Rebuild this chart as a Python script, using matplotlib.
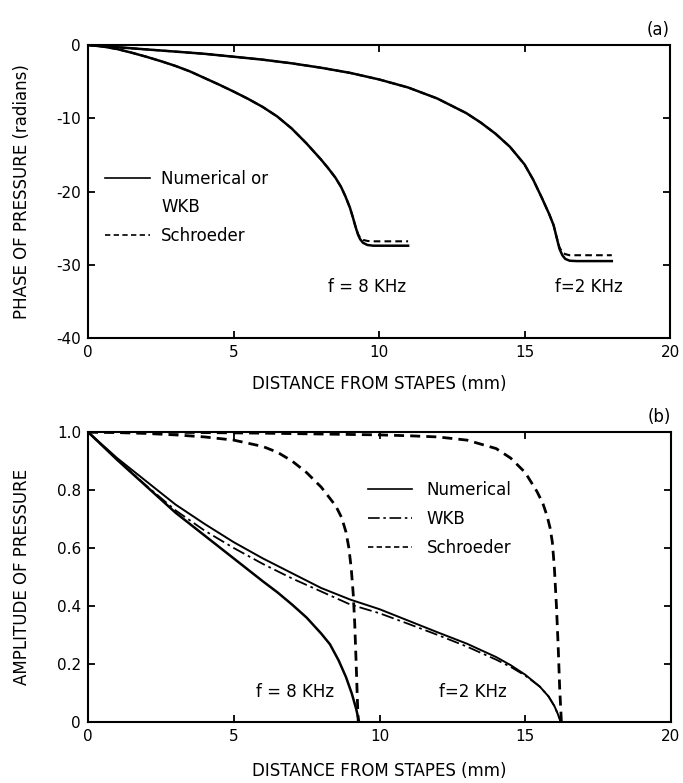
import matplotlib
matplotlib.use("Agg")
import matplotlib.pyplot as plt
from matplotlib.lines import Line2D

# ---------------- data ----------------
# (a) phase of pressure (radians)
x_ph_8k = [0, 0.5, 1, 1.5, 2, 2.5, 3, 3.5, 4, 4.5, 5, 5.5, 6, 6.5, 7, 7.5, 8, 8.25, 8.5, 8.7, 8.85, 9.0, 9.1, 9.2, 9.28, 9.35, 9.45, 9.6, 9.8, 10, 11]
ph_num_8k = [0, -0.2, -0.55, -1.05, -1.6, -2.2, -2.85, -3.6, -4.5, -5.4, -6.35, -7.35, -8.45, -9.75, -11.4, -13.4, -15.6, -16.8, -18.1, -19.4, -20.7, -22.2, -23.5, -24.9, -25.9, -26.5, -27.0, -27.3, -27.4, -27.4, -27.4]
ph_sch_8k = [0, -0.2, -0.55, -1.05, -1.6, -2.2, -2.85, -3.6, -4.5, -5.4, -6.35, -7.35, -8.45, -9.75, -11.4, -13.4, -15.6, -16.8, -18.1, -19.4, -20.7, -22.2, -23.5, -24.9, -25.8, -26.3, -26.6, -26.75, -26.8, -26.8, -26.8]

x_ph_2k = [0, 1, 2, 3, 4, 5, 6, 7, 8, 9, 10, 11, 12, 13, 13.5, 14, 14.5, 15, 15.3, 15.6, 15.85, 16.0, 16.1, 16.2, 16.3, 16.4, 16.55, 16.8, 17, 18]
ph_num_2k = [0, -0.3, -0.6, -0.9, -1.2, -1.6, -2.0, -2.5, -3.1, -3.8, -4.7, -5.8, -7.3, -9.3, -10.6, -12.1, -13.9, -16.3, -18.4, -20.9, -23.1, -24.6, -26.2, -27.8, -28.7, -29.2, -29.45, -29.5, -29.5, -29.5]
ph_sch_2k = [0, -0.3, -0.6, -0.9, -1.2, -1.6, -2.0, -2.5, -3.1, -3.8, -4.7, -5.8, -7.3, -9.3, -10.6, -12.1, -13.9, -16.3, -18.4, -20.9, -23.1, -24.6, -26.2, -27.6, -28.3, -28.55, -28.7, -28.7, -28.7, -28.7]

# (b) amplitude of pressure
x_am_8k = [0, 1, 2, 3, 4, 5, 6, 6.5, 7, 7.5, 8, 8.3, 8.6, 8.85, 9.05, 9.2, 9.3]
am_num_8k = [1.0, 0.904, 0.813, 0.722, 0.643, 0.564, 0.485, 0.447, 0.405, 0.36, 0.305, 0.268, 0.212, 0.155, 0.098, 0.045, 0.0]

x_am_2k = [0, 1, 2, 3, 4, 5, 6, 7, 8, 9, 10, 11, 12, 13, 14, 14.5, 15, 15.5, 15.8, 16.0, 16.12, 16.22]
am_num_2k = [1.0, 0.91, 0.83, 0.75, 0.683, 0.62, 0.564, 0.513, 0.462, 0.422, 0.389, 0.349, 0.309, 0.27, 0.224, 0.196, 0.163, 0.122, 0.088, 0.055, 0.027, 0.0]
am_wkb_2k = [1.0, 0.905, 0.815, 0.73, 0.66, 0.60, 0.545, 0.495, 0.45, 0.405, 0.375, 0.338, 0.30, 0.26, 0.215, 0.19, 0.16, 0.122, 0.088, 0.055, 0.027, 0.0]

x_sch_8k = [0, 1, 2, 3, 4, 5, 6, 6.5, 7, 7.5, 8, 8.5, 8.7, 8.85, 8.95, 9.03, 9.1, 9.15, 9.2, 9.24, 9.27]
am_sch_8k = [1.0, 0.998, 0.995, 0.99, 0.983, 0.972, 0.95, 0.93, 0.90, 0.86, 0.81, 0.745, 0.705, 0.655, 0.60, 0.53, 0.44, 0.34, 0.20, 0.08, 0.0]

x_sch_2k = [0, 2, 4, 6, 8, 10, 11, 12, 13, 14, 14.5, 15, 15.4, 15.6, 15.75, 15.85, 15.93, 16.0, 16.07, 16.13, 16.18, 16.24]
am_sch_2k = [1.0, 1.0, 0.998, 0.996, 0.993, 0.99, 0.987, 0.983, 0.972, 0.943, 0.91, 0.86, 0.795, 0.755, 0.71, 0.67, 0.62, 0.53, 0.40, 0.26, 0.12, 0.0]

x_ticks = [0, 5, 10, 15, 20]
x_tick_labels = ["0", "5", "10", "15", "20"]
ph_ticks = [0, -10, -20, -30, -40]
ph_tick_labels = ["0", "-10", "-20", "-30", "-40"]
am_ticks = [0, 0.2, 0.4, 0.6, 0.8, 1.0]
am_tick_labels = ["0", "0.2", "0.4", "0.6", "0.8", "1.0"]

# ---------------- figure ----------------
plt.rcParams['font.family'] = ['DejaVu Sans']
fig = plt.figure(figsize=(6.83, 7.83), dpi=100)
W, H = 683, 783

def axes_px(l, r, t, b):
    return fig.add_axes([l / W, (H - b) / H, (r - l) / W, (b - t) / H])

ax1 = axes_px(88, 670, 45, 338)
ax2 = axes_px(88, 671, 432, 722)

LW = 1.8
dash = (0, (3.2, 2.0))
dashdot = (0, (7, 2.2, 1.5, 2.2))

for ax in (ax1, ax2):
    for s in ax.spines.values():
        s.set_linewidth(1.5)
    ax.tick_params(direction='in', top=True, right=True, length=5, width=1.3,
                   labelsize=11, pad=5)
    ax.set_xlim(0, 20)
    ax.set_xticks(x_ticks)
    ax.set_xticklabels(x_tick_labels)
    ax.set_xlabel("DISTANCE FROM STAPES (mm)", fontsize=12)

ax1.xaxis.set_label_coords(0.5, -0.125)
ax2.xaxis.set_label_coords(0.5, -0.138)

# (a)
ax1.plot(x_ph_8k, ph_sch_8k, color='k', lw=1.5, ls=dash)
ax1.plot(x_ph_2k, ph_sch_2k, color='k', lw=1.5, ls=dash)
ax1.plot(x_ph_8k, ph_num_8k, color='k', lw=LW)
ax1.plot(x_ph_2k, ph_num_2k, color='k', lw=LW)
ax1.set_ylim(-40, 0)
ax1.set_yticks(ph_ticks)
ax1.set_yticklabels(ph_tick_labels)
ax1.set_ylabel("PHASE OF PRESSURE (radians)", fontsize=12)
ax1.yaxis.set_label_coords(-0.098, 0.5)
ax1.text(9.6, -33.0, "f = 8 KHz", fontsize=12, ha='center', va='center')
ax1.text(17.2, -33.0, "f=2 KHz", fontsize=12, ha='center', va='center')
ax1.text(1.0, 1.02, "(a)", transform=ax1.transAxes, fontsize=12, ha='right', va='bottom')

h1 = [Line2D([], [], color='k', lw=1.2),
      Line2D([], [], color='none'),
      Line2D([], [], color='k', lw=1.2, ls=dash)]
ax1.legend(h1, ["Numerical or", "WKB", "Schroeder"], loc='upper left',
           bbox_to_anchor=(0.57, -17.0), bbox_transform=ax1.transData,
           frameon=False, fontsize=12, borderpad=0, borderaxespad=0,
           handlelength=2.7, handletextpad=0.7, labelspacing=0.65)

# (b)
ax2.plot(x_sch_8k, am_sch_8k, color='k', lw=2.0, ls=(0, (3.6, 2.2)))
ax2.plot(x_sch_2k, am_sch_2k, color='k', lw=2.0, ls=(0, (3.6, 2.2)))
ax2.plot(x_am_2k, am_wkb_2k, color='k', lw=1.3, ls=dashdot)
ax2.plot(x_am_8k, am_num_8k, color='k', lw=LW)
ax2.plot(x_am_2k, am_num_2k, color='k', lw=1.4)
ax2.set_ylim(0, 1.0)
ax2.set_yticks(am_ticks)
ax2.set_yticklabels(am_tick_labels)
ax2.set_ylabel("AMPLITUDE OF PRESSURE", fontsize=12)
ax2.yaxis.set_label_coords(-0.098, 0.5)
ax2.text(7.1, 0.105, "f = 8 KHz", fontsize=12, ha='center', va='center')
ax2.text(13.2, 0.105, "f=2 KHz", fontsize=12, ha='center', va='center')
ax2.text(1.0, 1.02, "(b)", transform=ax2.transAxes, fontsize=12, ha='right', va='bottom')

h2 = [Line2D([], [], color='k', lw=1.2),
      Line2D([], [], color='k', lw=1.2, ls=dashdot),
      Line2D([], [], color='k', lw=1.2, ls=dash)]
ax2.legend(h2, ["Numerical", "WKB", "Schroeder"], loc='upper left',
           bbox_to_anchor=(9.62, 0.83), bbox_transform=ax2.transData,
           frameon=False, fontsize=12, borderpad=0, borderaxespad=0,
           handlelength=2.6, handletextpad=0.9, labelspacing=0.65)

fig.savefig("out.png", dpi=100)
